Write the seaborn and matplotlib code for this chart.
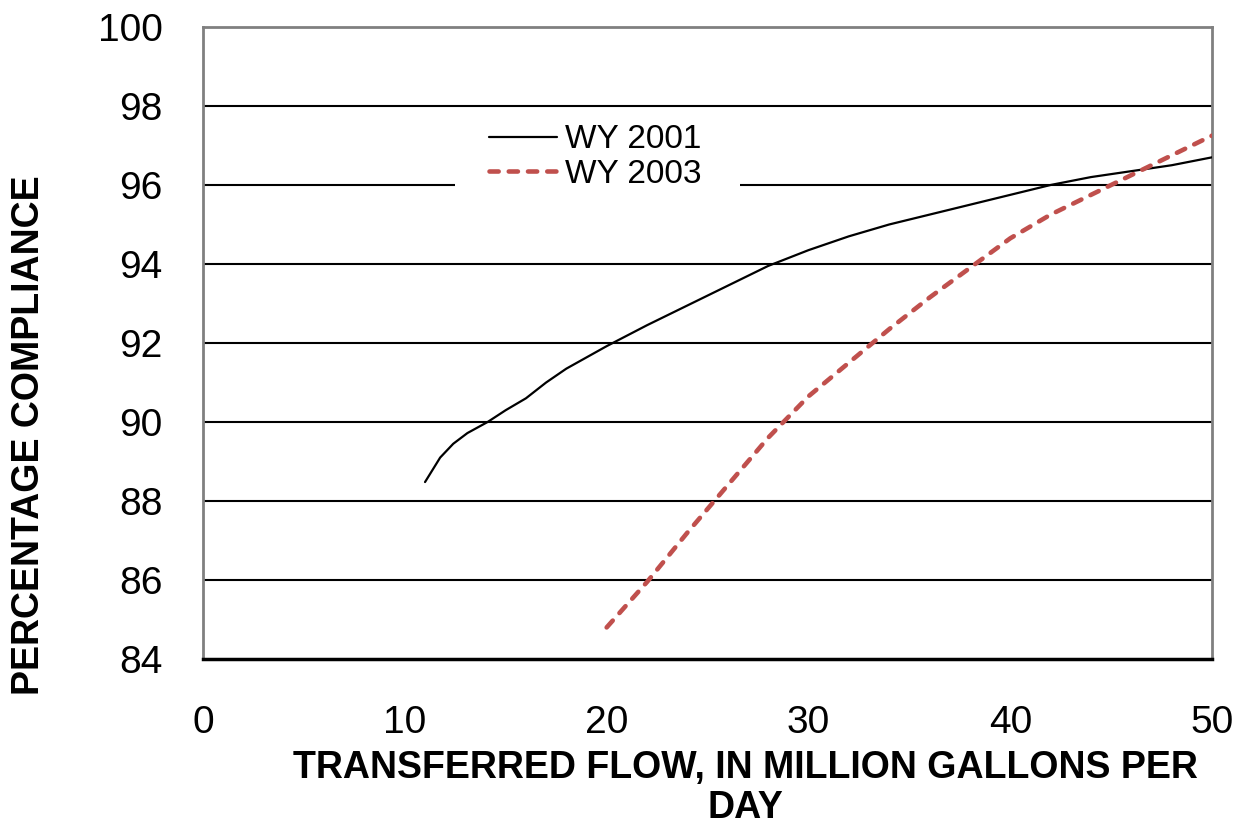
import pandas as pd
import matplotlib
matplotlib.use("Agg")
import matplotlib.pyplot as plt
from matplotlib.patches import Rectangle
import seaborn as sns

# Values
flow_2001 = [11, 11.75, 12.4, 13.1, 14.1, 15, 16, 17, 18, 20, 22, 24, 26, 28, 30, 32, 34, 36, 38, 40,
             42, 44, 46, 48, 50]
comp_2001 = [88.48, 89.1, 89.45, 89.72, 90.0, 90.3, 90.6, 91.0, 91.35, 91.92, 92.45, 92.95, 93.45,
             93.95, 94.35, 94.7, 95.0, 95.25, 95.5, 95.75, 96.0, 96.2, 96.35, 96.5, 96.7]
flow_2003 = [20, 22, 24, 26, 28, 30, 32, 34, 36, 38, 40, 42, 44, 46, 48, 50]
comp_2003 = [84.8, 85.95, 87.2, 88.4, 89.6, 90.65, 91.5, 92.35, 93.15, 93.9, 94.65, 95.25,
             95.75, 96.25, 96.75, 97.25]
series_names = ["WY 2001", "WY 2003"]

df = pd.concat([
    pd.DataFrame({"flow": flow_2001, "compliance": comp_2001, "year": series_names[0]}),
    pd.DataFrame({"flow": flow_2003, "compliance": comp_2003, "year": series_names[1]}),
])

sns.set_style("white")
plt.rcParams["font.family"] = ["Liberation Sans", "DejaVu Sans"]
plt.rcParams["text.color"] = "black"
plt.rcParams["xtick.color"] = "black"
plt.rcParams["ytick.color"] = "black"

fig = plt.figure(figsize=(12.48, 8.27), dpi=100)
ax = fig.add_axes([0.1627, 0.2031, 0.8085, 0.7643])

# grid lines
for yv in range(86, 100, 2):
    ax.axhline(yv, color="black", lw=1.5, zorder=0)

# white box behind the legend hides part of the 96 line
ax.add_patch(Rectangle((0.2497, 0.734), 0.2823, 0.127, transform=ax.transAxes,
                       facecolor="white", edgecolor="none", zorder=1))

sns.lineplot(data=df[df.year == "WY 2001"], x="flow", y="compliance", color="black",
             lw=1.6, ax=ax, label="WY 2001", zorder=3)
sns.lineplot(data=df[df.year == "WY 2003"], x="flow", y="compliance", color="#C0504D",
             lw=3.3, ax=ax, label="WY 2003", zorder=3)
red = ax.lines[-1]
red.set_dashes([2.0, 2.2])
red.set_dash_capstyle("round")

ax.set_xlim(0, 50)
ax.set_ylim(84, 100)
ax.set_xticks(range(0, 51, 10))
ax.set_yticks(range(84, 101, 2))
ax.tick_params(axis="x", direction="in", length=9, width=1.3, color="black",
               labelsize=28, pad=33)
ax.tick_params(axis="y", length=0, labelsize=28, pad=29)
ax.set_xlabel("")
ax.set_ylabel("")

for side in ["left", "top", "right"]:
    ax.spines[side].set_color("#808080")
    ax.spines[side].set_linewidth(2)
ax.spines["bottom"].set_color("black")
ax.spines["bottom"].set_linewidth(2.5)

leg = ax.legend(loc="upper left", bbox_to_anchor=(0.2834, 0.846), frameon=False,
                fontsize=24, handlelength=2.04, handletextpad=0.24, labelspacing=0.11,
                borderpad=0, borderaxespad=0)
for h in leg.get_lines():
    if h.get_color() == "#C0504D":
        h.set_dashes([2.0, 2.2])
        h.set_dash_capstyle("round")

fig.text(0.597, 0.047, "TRANSFERRED FLOW, IN MILLION GALLONS PER\nDAY", ha="center",
         va="center", fontsize=27, fontweight="bold", linespacing=1.15)
fig.text(0.023, 0.474, "PERCENTAGE COMPLIANCE", ha="center", va="center",
         rotation=90, fontsize=27, fontweight="bold")

fig.savefig("out.png", dpi=100)
